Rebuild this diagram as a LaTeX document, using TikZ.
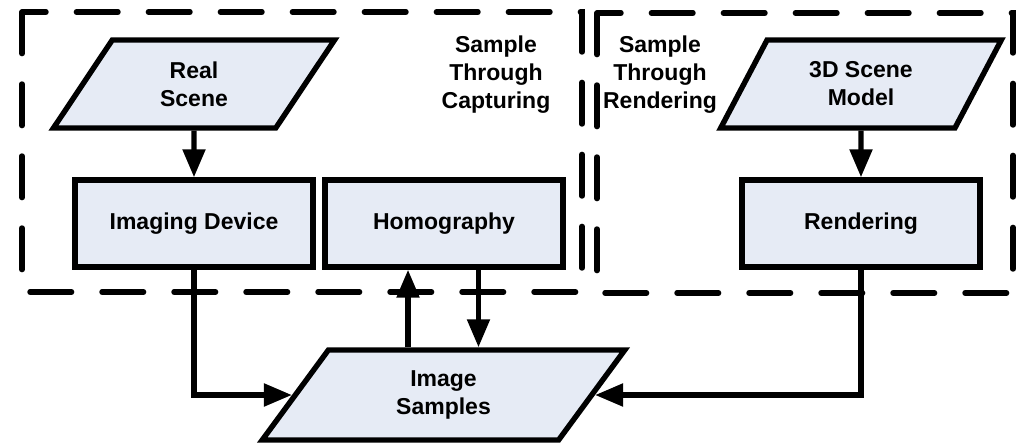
\documentclass[tikz,border=0pt]{standalone}
\usepackage{fontspec}
\setmainfont{Liberation Sans}
\usetikzlibrary{shapes.geometric,arrows.meta}
\definecolor{boxfill}{HTML}{E6EBF5}

\begin{document}
\begin{tikzpicture}[x=0.5pt,y=-0.5pt,>={Triangle[length=14pt,width=11pt]},
  every node/.style={font=\bfseries\fontsize{11.5}{14}\selectfont,align=center},
  proc/.style={draw,line width=2.7pt,fill=boxfill,minimum width=119pt,minimum height=43.5pt},
  data/.style={draw,line width=2.7pt,fill=boxfill,trapezium,trapezium left angle=63.4,
    trapezium right angle=116.6,trapezium stretches=true,minimum width=141pt,minimum height=44pt},
  group/.style={line width=2.7pt,dash pattern=on 20.8pt off 15.2pt,line cap=round},
  flow/.style={->,line width=2.6pt}]
  \useasboundingbox (0,0) rectangle (1029,446);
  \draw[group] (22,12) rectangle (582,292);
  \draw[group] (597,13) rectangle (1013,293);
  \node (capture) at (496,75) {Sample\\Through\\Capturing};
  \node (render) at (660,75) {Sample\\Through\\Rendering};
  \node[data] (real) at (194,84) {Real\\Scene};
  \node[proc] (imaging) at (194,223.5) {Imaging Device};
  \node[proc] (homography) at (444,223.5) {Homography};
  \node[data] (model) at (861,84) {3D Scene\\Model};
  \node[proc] (rendering) at (861,223.5) {Rendering};
  \node[data,minimum width=182.5pt,minimum height=45pt] (samples) at (443.5,395) {Image\\Samples};
  \draw[flow] (real) -- (imaging);
  \draw[flow] (model) -- (rendering);
  \draw[flow] (imaging.south) |- (samples.west);
  \draw[flow] (rendering.south) |- (samples.east);
  \draw[flow] ([xshift=-17.75pt]samples.north) -- ([xshift=-17.75pt]samples.north |- homography.south);
  \draw[flow] ([xshift=17.25pt]homography.south) -- ([xshift=17.25pt]homography.south |- samples.north);
\end{tikzpicture}
\end{document}
